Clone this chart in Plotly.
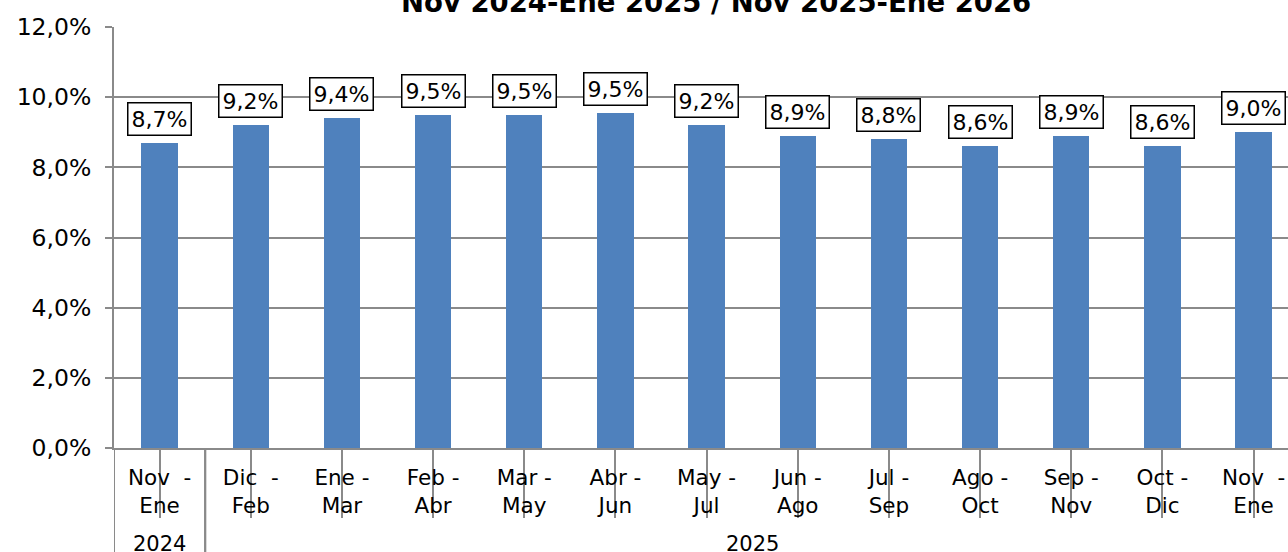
import plotly.graph_objects as go

# ---- data ----
periods = ["Nov\u00a0 -<br>Ene", "Dic\u00a0 -<br>Feb", "Ene -<br>Mar", "Feb -<br>Abr", "Mar -<br>May",
           "Abr -<br>Jun", "May -<br>Jul", "Jun -<br>Ago", "Jul -<br>Sep", "Ago -<br>Oct",
           "Sep -<br>Nov", "Oct -<br>Dic", "Nov\u00a0 -<br>Ene"]
years = ["2024", "2025", "2025", "2025", "2025", "2025", "2025", "2025", "2025", "2025", "2025", "2025", "2025"]
values = [8.7, 9.2, 9.4, 9.5, 9.5, 9.55, 9.2, 8.9, 8.8, 8.6, 8.9, 8.6, 9.0]
labels = ["8,7%", "9,2%", "9,4%", "9,5%", "9,5%", "9,5%", "9,2%", "8,9%", "8,8%", "8,6%", "8,9%", "8,6%", "9,0%"]
title_text = "Nov 2024-Ene 2025 / Nov 2025-Ene 2026"
y_ticks = [0, 2, 4, 6, 8, 10, 12]
y_ticktext = ["0,0%", "2,0%", "4,0%", "6,0%", "8,0%", "10,0%", "12,0%"]

FONT = "DejaVu Sans"
GRID = "#8a8a8a"
BAR = "#4f81bd"

W, H = 1288, 552
ML, MR, MT, MB = 114, 0, 27, 104
plot_h = H - MT - MB

x_idx = list(range(len(periods)))

fig = go.Figure()
fig.add_trace(go.Bar(
    x=x_idx, y=values, width=0.4,
    marker=dict(color=BAR, line=dict(width=0)),
    hoverinfo="skip",
))

# data labels in boxes
for i, (v, t) in enumerate(zip(values, labels)):
    fig.add_annotation(
        x=i, y=v, xref="x", yref="y", text=t, showarrow=False,
        yanchor="bottom", yshift=7,
        font=dict(family=FONT, size=22, color="#000000"),
        bgcolor="#ffffff", bordercolor="#000000", borderwidth=1.5, borderpad=3,
    )

# year group labels and dividers
groups = []
for i, yv in enumerate(years):
    if not groups or groups[-1][0] != yv:
        groups.append([yv, i, i])
    else:
        groups[-1][2] = i
below = -MB / plot_h
for yv, a, b in groups:
    fig.add_annotation(
        x=(a + b) / 2, y=below, xref="x", yref="paper", text=yv, showarrow=False,
        yanchor="bottom", yshift=-6,
        font=dict(family=FONT, size=21, color="#000000"),
    )
    for xb in (a - 0.5, b + 0.5):
        fig.add_shape(type="line", xref="x", yref="paper", x0=xb, x1=xb, y0=0, y1=below,
                      line=dict(color=GRID, width=2), layer="below")

# title (partly cut off at top, as in the reference)
fig.add_annotation(
    x=(len(periods) - 1) / 2 + 0.1, y=1 + (MT - 20) / plot_h, xref="x", yref="paper",
    text="<b>" + title_text + "</b>", showarrow=False, yanchor="bottom",
    font=dict(family=FONT, size=27.5, color="#000000"),
)

cat_w = (1208 - 114) / 12
x_end = (len(periods) - 0.5) - (ML + cat_w * len(periods) - W) / cat_w

fig.update_layout(
    width=W, height=H,
    margin=dict(l=ML, r=MR, t=MT, b=MB, pad=0),
    paper_bgcolor="#ffffff", plot_bgcolor="#ffffff",
    showlegend=False,
    bargap=0,
    font=dict(family=FONT, color="#000000"),
    xaxis=dict(
        range=[-0.5, x_end], tickmode="array", tickvals=x_idx, ticktext=periods,
        showgrid=False, zeroline=False,
        showline=True, linecolor=GRID, linewidth=2,
        ticks="outside", tickson="boundaries", ticklen=68, tickwidth=2, tickcolor=GRID,
        ticklabelstandoff=-59,
        tickfont=dict(family=FONT, size=21.5, color="#000000"),
    ),
    yaxis=dict(
        range=[0, 12], tickmode="array", tickvals=y_ticks, ticktext=y_ticktext,
        showgrid=True, gridcolor=GRID, gridwidth=2,
        zeroline=False,
        showline=True, linecolor=GRID, linewidth=2,
        ticks="outside", ticklen=7, tickwidth=2, tickcolor=GRID,
        ticklabelstandoff=9,
        tickfont=dict(family=FONT, size=23.5, color="#000000"),
    ),
)

fig.write_html("out.html", config={"displayModeBar": False},
               post_script="document.body.style.margin='0';document.body.style.overflow='hidden';")
